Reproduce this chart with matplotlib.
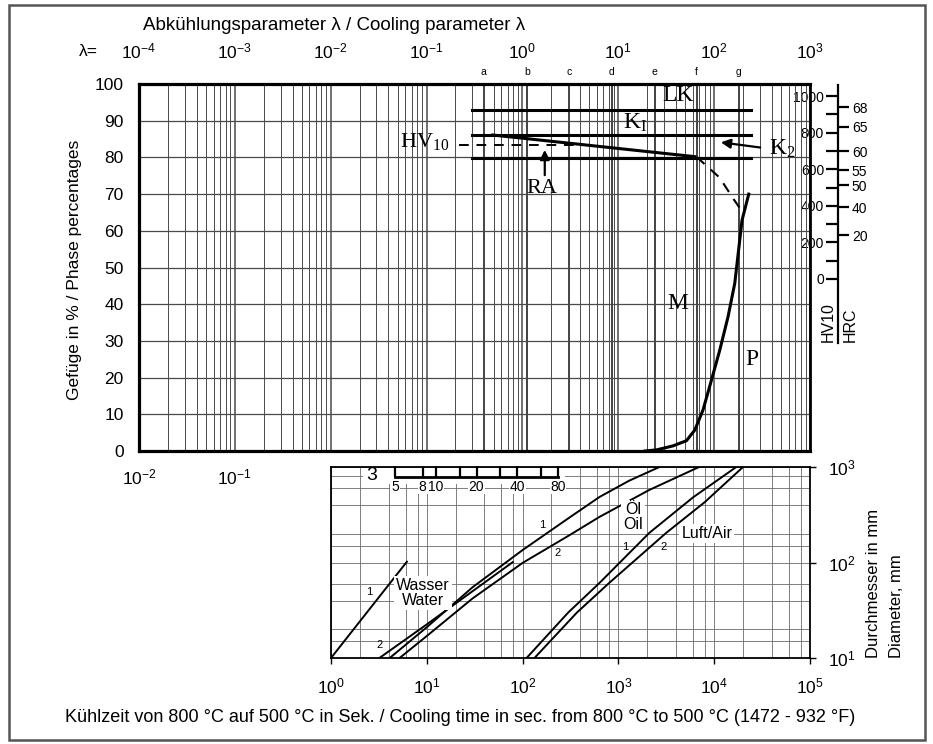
import numpy as np
import matplotlib.pyplot as plt
from matplotlib.patches import Rectangle
from matplotlib.ticker import FixedLocator, NullLocator, NullFormatter, LogLocator

plt.rcParams['font.family'] = ['DejaVu Sans Condensed', 'Liberation Sans Narrow', 'Liberation Sans', 'DejaVu Sans']
plt.rcParams['font.stretch'] = 'condensed'
plt.rcParams['mathtext.fontset'] = 'custom'
plt.rcParams['mathtext.rm'] = 'Liberation Sans'
plt.rcParams['mathtext.it'] = 'Liberation Sans:italic'
plt.rcParams['mathtext.bf'] = 'Liberation Sans:bold'

# ---- obere Grafik: Gefuege in % ueber Kuehlzeit t8/5 (s)
m_time = [1900, 2500, 3730, 5140, 6280, 7660, 9370, 11450, 13970, 16410, 18500, 19550, 22960]
m_pct = [0, 0.3, 1.4, 2.8, 5.7, 11.2, 19.3, 27.5, 36.6, 45.7, 57.5, 62.9, 70.0]

hv_time = [49, 6300]          # Haerteverlauf HV10 (durchgezogen)
hv_pct = [86.1, 80.2]
ra_time = [22, 430]           # gestrichelt, Restaustenit
ra_pct = [83.5, 83.5]
drop_time = [6580, 11400, 15600, 19900]
drop_pct = [80.1, 74.5, 69.0, 65.0]

band_levels = [92.8, 86.1, 79.8]   # LK, K1, K2
band_time = [29.5, 24500]

mark_letters = ['a', 'b', 'c', 'd', 'e', 'f', 'g']
mark_time = [39.6, 111, 305, 855, 2400, 6580, 18000]

# Haerteskala rechts
hv_zero_pct = 46.87
hv_per_pct = 20.06
hv_ticks = [0, 200, 400, 600, 800, 1000]
hrc_vals = [20, 40, 50, 55, 60, 65, 68]
hrc_hv = [238, 392, 513, 595, 697, 832, 940]

# ---- untere Grafik: Durchmesser (mm) ueber Kuehlzeit (s)
water1_t = [1.0, 6.2]
water1_d = [10, 102]
water2_t = [3.2, 10, 30, 79]
water2_d = [10, 22.5, 50, 101]
oil1_t = [4.1, 10, 30, 100, 300, 634, 1300, 2680]
oil1_d = [10, 21, 55, 135, 290, 485, 720, 1000]
oil2_t = [5.2, 10, 30, 100, 300, 634, 2100, 6950]
oil2_d = [10, 17, 42, 99, 190, 300, 575, 1000]
air1_t = [110, 300, 634, 2100, 6000, 17000]
air1_d = [10, 30, 61, 204, 480, 1000]
air2_t = [133, 370, 800, 3150, 8000, 20000]
air2_d = [10, 30, 61, 204, 430, 1000]

ruler_ticks = [5, 8, 10, 15, 20, 30, 40, 60, 80]
ruler_labels = {5: '5', 8: '8', 10: '10', 20: '20', 40: '40', 80: '80'}

W, H = 933, 744
fig = plt.figure(figsize=(9.33, 7.44), dpi=100)


def box(x0, y0, x1, y1):
    return [x0 / W, 1 - y1 / H, (x1 - x0) / W, (y1 - y0) / H]


gc = '#4a4a4a'
serif = 'Liberation Serif'
arial = 'Liberation Sans'

# ================= upper chart
ax = fig.add_axes(box(139, 84, 810, 451))
ax.set_xscale('log')
ax.set_xlim(1e-2, 1e5)
ax.set_ylim(0, 100)
decades = [10.0 ** k for k in range(-2, 6)]
ax.set_xticks(decades, labels=['$10^{-2}$', '$10^{-1}$', '', '', '', '', '', ''])
ax.xaxis.set_minor_locator(LogLocator(base=10, subs=np.arange(2, 10), numticks=50))
ax.xaxis.set_minor_formatter(NullFormatter())
ax.set_yticks(range(0, 101, 10))
ax.tick_params(which='both', length=0, labelsize=12.5)
ax.tick_params(axis='x', pad=12)
ax.tick_params(axis='y', pad=11)
ax.grid(True, which='major', axis='x', color=gc, lw=1.1)
ax.grid(True, which='minor', axis='x', color=gc, lw=0.7)
ax.grid(True, which='major', axis='y', color=gc, lw=0.9)
for s in ['left', 'bottom', 'top']:
    ax.spines[s].set_linewidth(2.3)
ax.spines['right'].set_linewidth(2.0)

for t in mark_time:
    ax.axvline(t, color='#222', lw=1.2, zorder=1)
for lt, t in zip(mark_letters, mark_time):
    ax.text(t, 1.033, lt, transform=ax.get_xaxis_transform(), ha='center',
            va='center', fontsize=7.5)

for lv in band_levels:
    ax.plot(band_time, [lv, lv], color='black', lw=2.2, zorder=3)
ax.plot(hv_time, hv_pct, color='black', lw=2.2, zorder=3)
ax.plot(ra_time, ra_pct, color='black', lw=1.4, ls=(0, (5, 4)), zorder=3)
ax.plot(drop_time, drop_pct, color='black', lw=1.5, ls=(0, (5, 4)), zorder=3)
ax.plot(m_time, m_pct, color='black', lw=2.2, zorder=3)

ax.text(4170, 97, 'LK', family=serif, fontsize=17, ha='center', va='center', zorder=4)
ax.text(1480, 89.6, 'K$_\\mathregular{I}$', family=serif, fontsize=17, ha='center', va='center', zorder=4)
ax.text(52000, 82.3, 'K$_\\mathregular{2}$', family=serif, fontsize=17, ha='center', va='center', zorder=4)
ax.text(9.6, 84.2, 'HV$_{\\mathregular{10}}$', family=serif, fontsize=16, ha='center', va='center', zorder=4)
ax.text(158, 71.4, 'RA', family=serif, fontsize=16, ha='center', va='center', zorder=4)
ax.text(4170, 40.3, 'M', family=serif, fontsize=17, ha='center', va='center', zorder=4)
ax.text(24500, 24.8, 'P', family=serif, fontsize=17, ha='center', va='center', zorder=4)
ax.annotate('', xy=(171, 82.8), xytext=(171, 74.4),
            arrowprops=dict(arrowstyle='-|>', color='black', lw=1.6, mutation_scale=14))
ax.annotate('', xy=(11000, 84.2), xytext=(32300, 82.6),
            arrowprops=dict(arrowstyle='-|>', color='black', lw=1.6, mutation_scale=14))

# lambda axis (lambda = t / 100)
lam = ax.secondary_xaxis('top', functions=(lambda t: t / 100.0, lambda l: l * 100.0))
lam.set_xticks([10.0 ** k for k in range(-4, 4)],
               labels=['$10^{%d}$' % k for k in range(-4, 4)])
lam.xaxis.set_minor_locator(NullLocator())
lam.tick_params(length=0, pad=16, labelsize=12.5)
lam.spines['top'].set_visible(False)

# hardness scale HV10 / HRC
loc = (838 - 139) / (810 - 139)
fwd = lambda p: (np.asarray(p) - hv_zero_pct) * hv_per_pct
inv = lambda h: np.asarray(h) / hv_per_pct + hv_zero_pct
hv = ax.secondary_yaxis(loc, functions=(fwd, inv))
hv.set_alignment('left')
hv.set_yticks(hv_ticks, labels=[str(v) for v in hv_ticks])
hv.yaxis.set_minor_locator(FixedLocator([100, 300, 500, 700, 900]))
hv.tick_params(which='major', direction='out', length=9, width=1.6, pad=1, labelsize=10)
hv.tick_params(which='minor', direction='out', length=9, width=1.6)
hv.spines['left'].set_linewidth(1.6)
hv.spines['left'].set_bounds(-350, 1060)

hrc = ax.secondary_yaxis(loc, functions=(fwd, inv))
hrc.set_alignment('right')
hrc.set_yticks(hrc_hv, labels=[str(v) for v in hrc_vals])
hrc.yaxis.set_minor_locator(NullLocator())
hrc.tick_params(direction='out', length=8, width=1.6, pad=2, labelsize=10)
hrc.spines['right'].set_visible(False)

fig.text(828 / W, 1 - 342 / H, 'HV10', rotation=90, ha='center', va='bottom', fontsize=11.5)
fig.text(850 / W, 1 - 342 / H, 'HRC', rotation=90, ha='center', va='bottom', fontsize=11.5)

# ================= lower chart
bx = fig.add_axes(box(331, 467, 810, 658))
bx.set_xscale('log')
bx.set_yscale('log')
bx.set_xlim(1, 1e5)
bx.set_ylim(10, 1000)
bx.set_xticks([10.0 ** k for k in range(0, 6)],
              labels=['$10^{%d}$' % k for k in range(0, 6)])
bx.xaxis.set_minor_locator(LogLocator(base=10, subs=[2, 4, 6, 8], numticks=50))
bx.xaxis.set_minor_formatter(NullFormatter())
bx.yaxis.tick_right()
bx.set_yticks([10, 100, 1000], labels=['$10^{1}$', '$10^{2}$', '$10^{3}$'])
bx.yaxis.set_minor_locator(FixedLocator([15, 20, 40, 60, 150, 200, 400, 600, 800]))
bx.yaxis.set_minor_formatter(NullFormatter())
bx.tick_params(which='major', direction='out', length=4, width=1.0, labelsize=12.5)
bx.tick_params(which='minor', length=0)
bx.tick_params(axis='x', pad=9)
bx.tick_params(axis='y', pad=9)
bx.grid(True, which='both', color='#6a6a6a', lw=0.6)
for s in bx.spines.values():
    s.set_linewidth(1.3)

for tt, dd in [(water1_t, water1_d), (water2_t, water2_d), (oil1_t, oil1_d),
               (oil2_t, oil2_d), (air1_t, air1_d), (air2_t, air2_d)]:
    bx.plot(tt, dd, color='black', lw=1.4, zorder=3)

small = dict(family=arial, fontsize=8, ha='center', va='center', zorder=4)
bx.text(2.49, 49, '1', **small)
bx.text(3.25, 13.7, '2', **small)
bx.text(159, 245, '1', **small)
bx.text(234, 126, '2', **small)
bx.text(1170, 145, '1', **small)
bx.text(2930, 145, '2', **small)
wbg = dict(facecolor='white', edgecolor='none', pad=1.5)
bx.text(9.1, 48, 'Wasser\nWater', fontsize=11.5, ha='center', va='center',
        linespacing=1.0, bbox=wbg, zorder=4)
bx.text(1420, 300, 'Öl\nOil', fontsize=11.5, ha='center', va='center',
        linespacing=1.0, bbox=wbg, zorder=4)
bx.text(8370, 203, 'Luft/Air', fontsize=11.5, ha='center', va='center', bbox=wbg, zorder=4)

fig.patches.append(Rectangle((363 / W, 1 - 484 / H), 202 / W, 16.5 / H,
                             transform=fig.transFigure, facecolor='white',
                             edgecolor='none', zorder=1))
fig.text(372 / W, 1 - 475 / H, '3', family=arial, fontsize=14,
         ha='center', va='center', zorder=3)

rx = fig.add_axes(box(395, 469, 558, 477), zorder=2)
rx.set_xscale('log')
rx.set_xlim(5, 80)
rx.patch.set_visible(False)
for s in ['left', 'right', 'top']:
    rx.spines[s].set_visible(False)
rx.spines['bottom'].set_linewidth(2.0)
rx.set_yticks([])
rx.set_xticks(ruler_ticks, labels=[ruler_labels.get(v, '') for v in ruler_ticks])
rx.xaxis.set_minor_locator(NullLocator())
rx.tick_params(axis='x', direction='in', length=8, width=1.6, pad=2, labelsize=10)
for lbl in rx.get_xticklabels():
    lbl.set_family(arial)
    if lbl.get_text():
        lbl.set_bbox(dict(facecolor='white', edgecolor='none', pad=0.5))

# ================= texts
fig.text(143 / W, 1 - 25 / H, 'Abkühlungsparameter λ / Cooling parameter λ',
         ha='left', va='center', fontsize=13.5)
fig.text(88 / W, 1 - 52 / H, 'λ=', ha='center', va='center', fontsize=12.5)
fig.text(75 / W, 1 - 270 / H, 'Gefüge in % / Phase percentages', rotation=90,
         ha='center', va='center', fontsize=12.5)
fig.text(885 / W, 1 - 658 / H, 'Durchmesser in mm\nDiameter, mm', rotation=90,
         ha='center', va='bottom', multialignment='left', fontsize=12, linespacing=1.7)
fig.text(460 / W, 1 - 718 / H,
         'Kühlzeit von 800 °C auf 500 °C in Sek. / Cooling time in sec. from 800 °C to 500 °C (1472 - 932 °F)',
         ha='center', va='center', fontsize=13)

fig.patches.append(Rectangle((9 / W, 4 / H), 916 / W, 735 / H, transform=fig.transFigure,
                             fill=False, edgecolor='#555555', lw=1.8))

fig.savefig('out.png', dpi=100)
